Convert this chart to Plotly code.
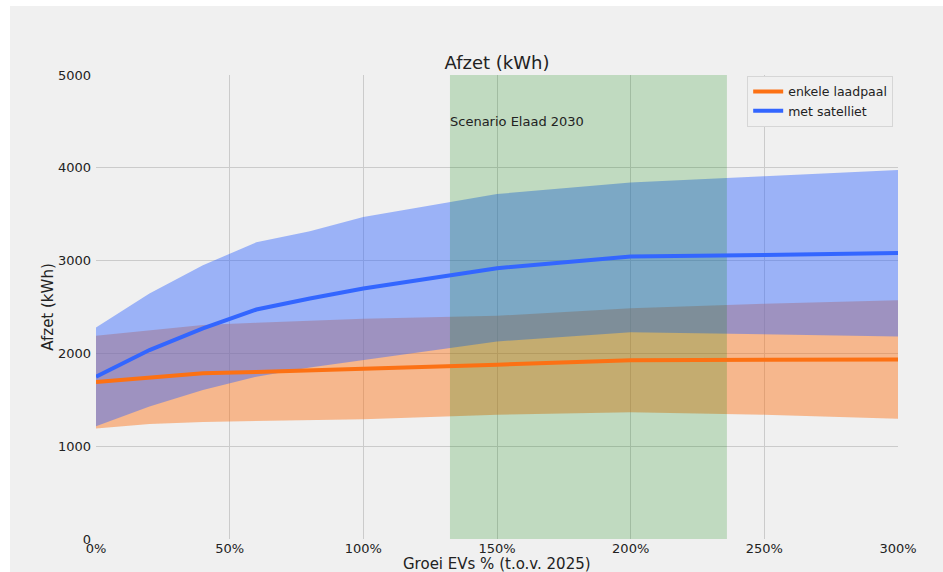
import plotly.graph_objects as go

# groei EVs t.o.v. 2025 (%)
groei = [0, 20, 40, 60, 80, 100, 150, 200, 250, 300]

# enkele laadpaal
enkel_mean = [1692, 1742, 1785, 1799, 1821, 1835, 1878, 1925, 1932, 1935]
enkel_low = [1190, 1240, 1262, 1269, 1283, 1290, 1340, 1366, 1340, 1297]
enkel_high = [2190, 2251, 2305, 2330, 2348, 2373, 2405, 2487, 2534, 2573]

# met satelliet
sat_mean = [1749, 2036, 2269, 2473, 2591, 2699, 2918, 3043, 3061, 3082]
sat_low = [1215, 1427, 1606, 1749, 1849, 1928, 2129, 2229, 2208, 2183]
sat_high = [2280, 2645, 2950, 3197, 3315, 3470, 3717, 3842, 3910, 3975]

# scenario Elaad 2030
scenario_lo = 132.4
scenario_hi = 236.0
scenario_label = "Scenario Elaad 2030"

y_ticks = [0, 1000, 2000, 3000, 4000, 5000]
x_ticks = [0, 50, 100, 150, 200, 250, 300]

BG = "#f0f0f0"
ORANGE = "rgb(252,113,20)"
BLUE = "rgb(51,102,255)"
FONT = "DejaVu Sans"


def band(x, low, high, color):
    return [
        go.Scatter(x=x, y=low, mode="lines", line=dict(width=0),
                   showlegend=False, hoverinfo="skip"),
        go.Scatter(x=x, y=high, mode="lines", line=dict(width=0),
                   fill="tonexty", fillcolor=color,
                   showlegend=False, hoverinfo="skip"),
    ]


fig = go.Figure()
for tr in band(groei, enkel_low, enkel_high, "rgba(252,113,20,0.45)"):
    fig.add_trace(tr)
for tr in band(groei, sat_low, sat_high, "rgba(51,102,255,0.45)"):
    fig.add_trace(tr)

# scenario span on top of the bands
fig.add_trace(
    go.Scatter(
        x=[scenario_lo, scenario_lo, scenario_hi, scenario_hi],
        y=[0, 5000, 5000, 0],
        mode="lines",
        line=dict(width=0),
        fill="toself",
        fillcolor="rgba(0,128,0,0.2)",
        showlegend=False,
        hoverinfo="skip",
    )
)

fig.add_trace(go.Scatter(x=groei, y=enkel_mean, mode="lines",
                         line=dict(color=ORANGE, width=4), name="enkele laadpaal"))
fig.add_trace(go.Scatter(x=groei, y=sat_mean, mode="lines",
                         line=dict(color=BLUE, width=4), name="met satelliet"))

fig.add_annotation(
    x=scenario_lo, y=4500, text=scenario_label, showarrow=False,
    xanchor="left", yanchor="middle", xshift=-2,
    font=dict(family=FONT, size=13, color="#222222"),
)

# x axis title placed by hand, just under the tick labels
fig.add_annotation(
    x=0.5, y=-0.0545, xref="paper", yref="paper",
    text="Groei EVs % (t.o.v. 2025)", showarrow=False,
    xanchor="center", yanchor="middle",
    font=dict(family=FONT, size=15, color="#222222"),
)

# grey figure background with white margin top/left
fig.add_shape(
    type="rect", xref="paper", yref="paper",
    x0=-0.1072, x1=1.07, y0=-0.09, y1=1.1487,
    fillcolor=BG, line=dict(width=0), layer="below",
)

fig.update_layout(
    width=943,
    height=572,
    margin=dict(l=96, r=45, t=75, b=33),
    paper_bgcolor="white",
    plot_bgcolor=BG,
    font=dict(family=FONT, size=13, color="#222222"),
    title=dict(text="Afzet (kWh)", x=0.5, xref="paper", xanchor="center",
               y=0.879, yanchor="bottom",
               font=dict(family=FONT, size=18, color="#222222")),
    showlegend=True,
    legend=dict(
        x=0.994, y=0.998, xanchor="right", yanchor="top",
        bgcolor=BG, bordercolor="#d6d6d6", borderwidth=1,
        font=dict(family=FONT, size=12.5, color="#222222"),
        traceorder="normal", itemwidth=30,
    ),
)

fig.update_xaxes(
    range=[0, 300],
    tickvals=x_ticks,
    ticktext=[f"{v}%" for v in x_ticks],
    showgrid=True, gridcolor="#cbcbcb", gridwidth=1,
    zeroline=False, showline=False, ticks="",
    automargin=False,
    tickfont=dict(family=FONT, size=13),
)
fig.update_yaxes(
    range=[0, 5000],
    tickvals=y_ticks,
    showgrid=True, gridcolor="#cbcbcb", gridwidth=1,
    zeroline=False, showline=False, ticks="",
    automargin=False, ticklabelstandoff=4,
    tickfont=dict(family=FONT, size=13),
    title=dict(text="Afzet (kWh)", standoff=0,
               font=dict(family=FONT, size=15)),
)

fig.write_html("out.html", config={"displayModeBar": False},
               post_script="document.body.style.margin='0';")
